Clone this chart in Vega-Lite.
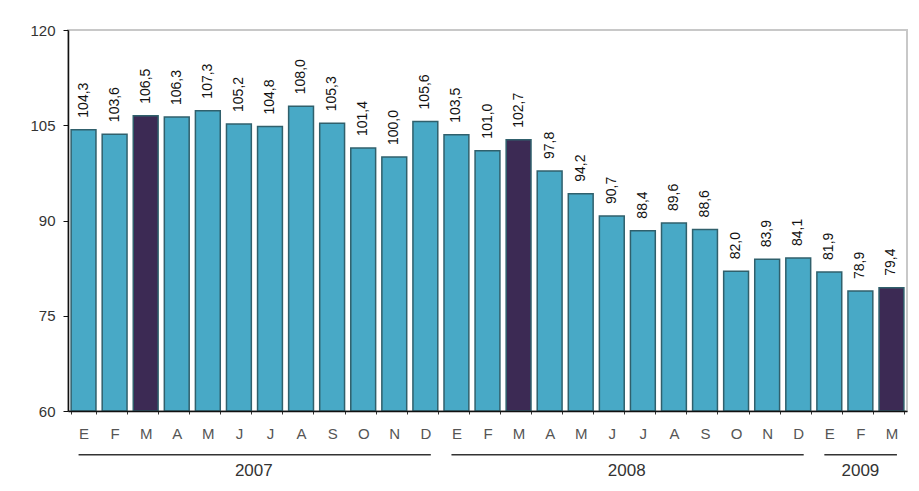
{
  "$schema": "https://vega.github.io/schema/vega-lite/v6.json",
  "autosize": "none",
  "width": 839,
  "height": 381,
  "padding": {"left": 68, "top": 30, "right": 12, "bottom": 80},
  "background": "white",
  "config": {
    "font": "Liberation Sans",
    "view": {"stroke": "#c8c8c8", "strokeWidth": 2},
    "locale": {"number": {"decimal": ",", "thousands": ".", "grouping": [3], "currency": ["", " €"]}}
  },
  "datasets": {
    "months": [
      {"key": "2007-01", "value": 104.3}, {"key": "2007-02", "value": 103.6}, {"key": "2007-03", "value": 106.5},
      {"key": "2007-04", "value": 106.3}, {"key": "2007-05", "value": 107.3}, {"key": "2007-06", "value": 105.2},
      {"key": "2007-07", "value": 104.8}, {"key": "2007-08", "value": 108.0}, {"key": "2007-09", "value": 105.3},
      {"key": "2007-10", "value": 101.4}, {"key": "2007-11", "value": 100.0}, {"key": "2007-12", "value": 105.6},
      {"key": "2008-01", "value": 103.5}, {"key": "2008-02", "value": 101.0}, {"key": "2008-03", "value": 102.7},
      {"key": "2008-04", "value": 97.8}, {"key": "2008-05", "value": 94.2}, {"key": "2008-06", "value": 90.7},
      {"key": "2008-07", "value": 88.4}, {"key": "2008-08", "value": 89.6}, {"key": "2008-09", "value": 88.6},
      {"key": "2008-10", "value": 82.0}, {"key": "2008-11", "value": 83.9}, {"key": "2008-12", "value": 84.1},
      {"key": "2009-01", "value": 81.9}, {"key": "2009-02", "value": 78.9}, {"key": "2009-03", "value": 79.4}
    ],
    "years": [
      {"year": "2007", "start": "2007-01", "end": "2007-12", "mid": "2007-06", "centerMid": false},
      {"year": "2008", "start": "2008-01", "end": "2008-12", "mid": "2008-06", "centerMid": false},
      {"year": "2009", "start": "2009-01", "end": "2009-03", "mid": "2009-02", "centerMid": true}
    ]
  },
  "layer": [
    {
      "data": {"name": "months"},
      "mark": {"type": "bar", "stroke": "#30606c", "strokeWidth": 1.5},
      "encoding": {
        "x": {
          "field": "key", "type": "ordinal",
          "scale": {"paddingInner": 0.2, "paddingOuter": 0.1},
          "axis": {
            "title": null,
            "labelAngle": 0,
            "labelExpr": "['E','F','M','A','M','J','J','A','S','O','N','D'][toNumber(slice(datum.label,5))-1]",
            "labelFont": "Liberation Sans",
            "labelFontSize": 15,
            "labelColor": "#555",
            "labelPadding": 12,
            "domainColor": "#111",
            "domainWidth": 1.5,
            "tickBand": "extent",
            "tickSize": 3,
            "tickColor": "#333",
            "zindex": 1
          }
        },
        "y": {
          "field": "value", "type": "quantitative",
          "scale": {"domain": [60, 120], "nice": false, "zero": false},
          "axis": {
            "title": null,
            "values": [60, 75, 90, 105, 120],
            "grid": false,
            "labelFontSize": 15,
            "labelColor": "#333",
            "labelPadding": 8,
            "tickSize": 5,
            "tickColor": "#111",
            "domainColor": "#111",
            "domainWidth": 1.5,
            "zindex": 1
          }
        },
        "y2": {"datum": 60},
        "color": {
          "condition": {"test": "slice(datum.key,5) == '03'", "value": "#3c2a54"},
          "value": "#48a9c6"
        }
      }
    },
    {
      "data": {"name": "months"},
      "mark": {"type": "text", "angle": 270, "align": "left", "baseline": "middle", "dx": 12, "fontSize": 14, "color": "#111"},
      "encoding": {
        "x": {"field": "key", "type": "ordinal"},
        "y": {"field": "value", "type": "quantitative", "scale": {"domain": [60, 120], "nice": false, "zero": false}},
        "text": {"field": "value", "type": "quantitative", "format": ".1f"}
      }
    },
    {
      "data": {"name": "years"},
      "mark": {"type": "rule", "color": "#333", "strokeWidth": 1.5},
      "encoding": {
        "x": {"field": "start", "type": "ordinal", "bandPosition": 0.3},
        "x2": {"field": "end", "bandPosition": 0.72},
        "y": {"datum": 53.1, "type": "quantitative", "scale": {"domain": [60, 120], "nice": false, "zero": false}}
      }
    },
    {
      "data": {"name": "years"},
      "transform": [{"filter": "!datum.centerMid"}],
      "mark": {"type": "text", "align": "center", "baseline": "middle", "fontSize": 17, "color": "#333"},
      "encoding": {
        "x": {"field": "mid", "type": "ordinal", "bandPosition": 1.1},
        "y": {"datum": 50.6, "type": "quantitative", "scale": {"domain": [60, 120], "nice": false, "zero": false}},
        "text": {"field": "year"}
      }
    },
    {
      "data": {"name": "years"},
      "transform": [{"filter": "datum.centerMid"}],
      "mark": {"type": "text", "align": "center", "baseline": "middle", "fontSize": 17, "color": "#333"},
      "encoding": {
        "x": {"field": "mid", "type": "ordinal", "bandPosition": 0.5},
        "y": {"datum": 50.6, "type": "quantitative", "scale": {"domain": [60, 120], "nice": false, "zero": false}},
        "text": {"field": "year"}
      }
    }
  ]
}
